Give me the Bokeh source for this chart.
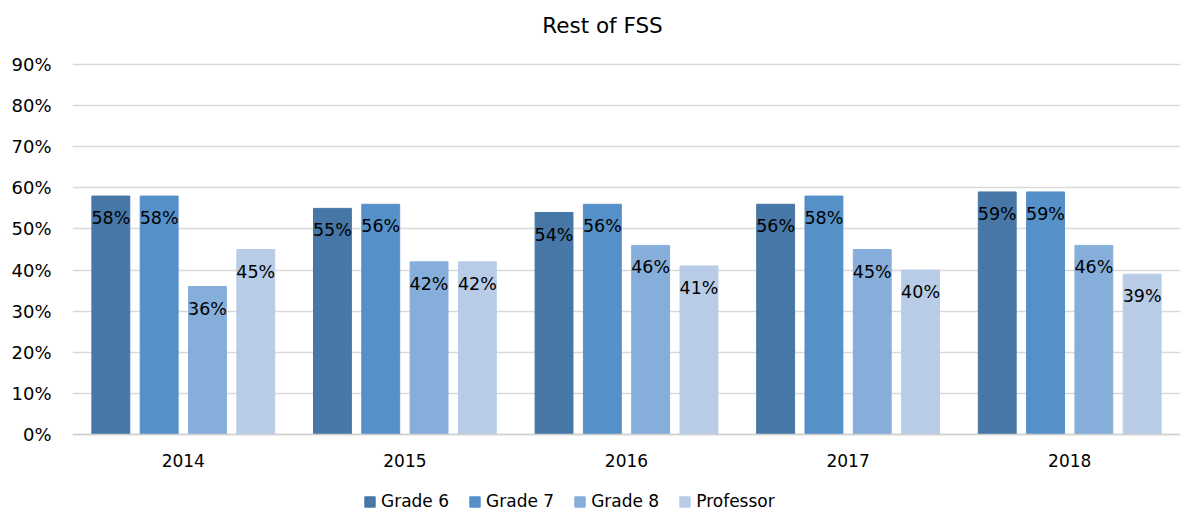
from bokeh.plotting import figure
from bokeh.models import ColumnDataSource, LabelSet, Range1d, FactorRange, Legend, LegendItem, PrintfTickFormatter, FixedTicker
from bokeh.transform import dodge
from bokeh.core.properties import value
from bokeh.embed import file_html
from bokeh.resources import INLINE

title_text = "Rest of FSS"
years = ["2014", "2015", "2016", "2017", "2018"]
series = ["Grade 6", "Grade 7", "Grade 8", "Professor"]
grade6 = [58, 55, 54, 56, 59]
grade7 = [58, 56, 56, 58, 59]
grade8 = [36, 42, 46, 45, 46]
professor = [45, 42, 41, 40, 39]
y_ticks = [0, 10, 20, 30, 40, 50, 60, 70, 80, 90]
colors = ["#4677A7", "#5590C8", "#86AEDB", "#B8CCE8"]

values = [grade6, grade7, grade8, professor]
FONT = "DejaVu Sans"

H, W = 514, 1189
zero_px = 434     # pixel row of the 0% line
top90_px = 64     # pixel row of the 90% line
px_per_unit = (zero_px - top90_px) / 90.0
y_start = -(H - zero_px) / px_per_unit
y_end = zero_px / px_per_unit

p = figure(width=W, height=H, x_range=FactorRange(*years), y_range=Range1d(y_start, y_end),
           output_backend="svg", toolbar_location=None,
           min_border_left=72, min_border_right=9, min_border_top=0, min_border_bottom=0)
p.outline_line_color = None
p.background_fill_color = "white"
p.border_fill_color = "white"

# chart title, drawn as text near the top of the frame
p.text(x=[years[2]], y=[(zero_px - 25) / px_per_unit], text=[title_text],
       x_offset=-24, text_align="center", text_baseline="middle",
       text_font=value(FONT), text_font_size="21.5px", text_color="#000000")

step = 0.218
bar_w = 0.171
offsets = [-1.5 * step, -0.5 * step, 0.5 * step, 1.5 * step]

items = []
for name, vals, col, off in zip(series, values, colors, offsets):
    src = ColumnDataSource(dict(year=years, v=vals, lab=[f"{v}%" for v in vals]))
    r = p.vbar(x=dodge("year", off, range=p.x_range), top="v", width=bar_w, source=src,
               fill_color=col, line_color=col)
    items.append(LegendItem(label=name, renderers=[r]))
    labels = LabelSet(x=dodge("year", off, range=p.x_range), y="v", text="lab", source=src,
                      y_offset=-22, text_align="center", text_baseline="middle",
                      text_font=value(FONT), text_font_size="17.5px", text_color="#000000")
    p.add_layout(labels)

p.xgrid.grid_line_color = None
p.ygrid.grid_line_color = "#d9d9d9"
p.ygrid.grid_line_width = 1.5
p.yaxis.ticker = FixedTicker(ticks=y_ticks)
p.yaxis.formatter = PrintfTickFormatter(format="%d%%")
p.yaxis.axis_line_color = None
p.yaxis.major_tick_line_color = None
p.yaxis.minor_tick_line_color = None
p.yaxis.major_label_standoff = 15
p.yaxis.major_label_text_font = FONT
p.yaxis.major_label_text_font_size = "18px"
p.yaxis.major_label_text_color = "#000000"

p.xaxis.fixed_location = 0
p.xaxis.axis_line_color = "#d0d0d0"
p.xaxis.axis_line_width = 1.5
p.xaxis.major_tick_line_color = None
p.xaxis.minor_tick_line_color = None
p.xaxis.major_label_standoff = 13
p.xaxis.major_label_text_font = FONT
p.xaxis.major_label_text_font_size = "17px"
p.xaxis.major_label_text_color = "#000000"

legend = Legend(items=items, orientation="horizontal", location=(291, 3),
                glyph_width=13, glyph_height=13, label_height=13, label_standoff=5, spacing=19,
                padding=0, margin=0, border_line_color=None, background_fill_alpha=0,
                label_text_font=FONT, label_text_font_size="17px", label_text_color="#000000",
                label_text_baseline="middle")
p.add_layout(legend, "center")

open("out.html", "w").write(file_html(p, INLINE))
